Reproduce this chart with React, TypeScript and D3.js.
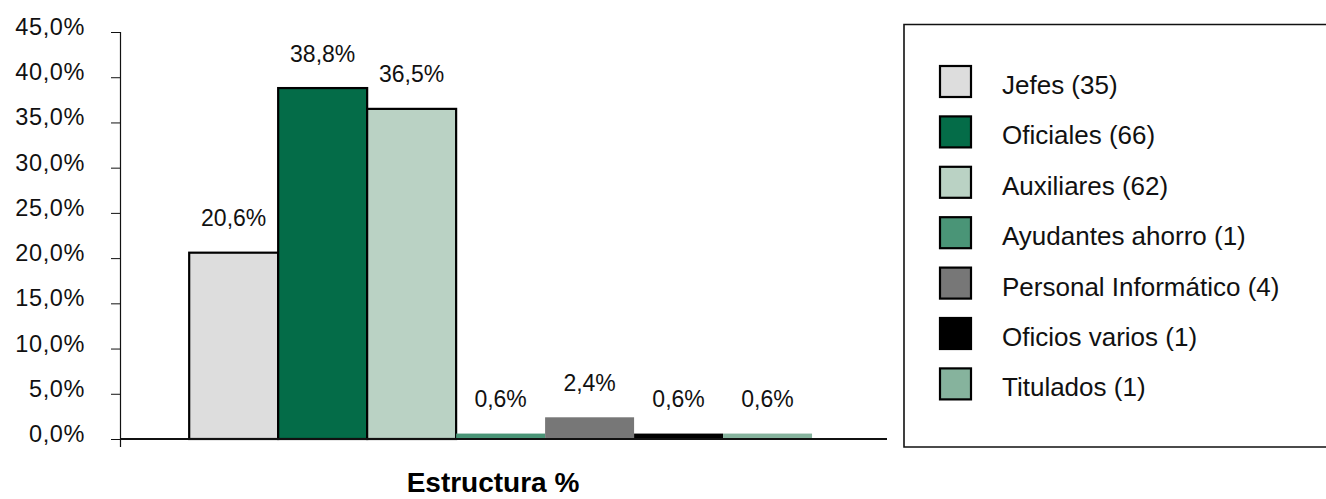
import React from "react";
import * as d3 from "d3";

const categories = [
  "Jefes",
  "Oficiales",
  "Auxiliares",
  "Ayudantes ahorro",
  "Personal Informático",
  "Oficios varios",
  "Titulados",
];
const counts = [35, 66, 62, 1, 4, 1, 1];
const shares = [20.6, 38.8, 36.5, 0.6, 2.4, 0.6, 0.6];
const yTicks = [0, 5, 10, 15, 20, 25, 30, 35, 40, 45];
const palette = ["#dddddd", "#046c48", "#bad2c4", "#4a9577", "#777777", "#000000", "#86b39d"];
const title = "Estructura %";

const W = 1326;
const H = 499;
const FONT = "'Liberation Sans', Arial, Helvetica, sans-serif";

const pct = (v: number) => d3.format(".1f")(v).replace(".", ",") + "%";

export default function App() {
  const plotLeft = 120;
  const plotRight = 887;
  const y = d3.scaleLinear().domain([0, 45]).range([439, 32]);
  const x = d3
    .scaleBand<string>()
    .domain(categories)
    .range([plotLeft, plotRight])
    .paddingInner(0)
    .paddingOuter(0.81)
    .align(0.48);

  const legendX = 904;
  const legendTop = 24.5;
  const legendBottom = 447;
  const rowStep = 50.4;
  const swatchTop0 = 66;
  const swatch = 31;

  return (
    <svg
      width={W}
      height={H}
      viewBox={`0 0 ${W} ${H}`}
      style={{ position: "absolute", left: 0, top: 0, background: "#fff" }}
      fontFamily={FONT}
    >
      <rect x={0} y={0} width={W} height={H} fill="#fff" />

      {/* bars: tall bars carry a black outline, the slivers near zero do not */}
      {categories.map((c, i) => {
        const x0 = x(c) as number;
        const top = y(shares[i]);
        const h = y(0) - top;
        const outlined = h > 40;
        return (
          <rect
            key={c}
            x={x0}
            y={top}
            width={x.bandwidth()}
            height={h}
            fill={palette[i]}
            stroke={outlined ? "#000" : "none"}
            strokeWidth={outlined ? 2.2 : 0}
          />
        );
      })}

      {/* y axis */}
      <line x1={plotLeft + 0.5} x2={plotLeft + 0.5} y1={y(45)} y2={y(0) + 8} stroke="#111" strokeWidth={1.2} />
      {yTicks.map((t) => (
        <g key={t}>
          <line x1={111} x2={plotLeft} y1={y(t) + 0.5} y2={y(t) + 0.5} stroke="#111" strokeWidth={1} />
          <text
            x={85}
            y={y(t) + 3}
            textAnchor="end"
            fontSize={23.5}
            fill="#111"
            letterSpacing={0.6}
          >
            {pct(t)}
          </text>
        </g>
      ))}

      {/* x axis */}
      <line x1={plotLeft} x2={plotRight} y1={y(0)} y2={y(0)} stroke="#111" strokeWidth={2} />

      {/* value labels */}
      {categories.map((c, i) => (
        <text
          key={c}
          x={(x(c) as number) + x.bandwidth() / 2}
          y={y(shares[i]) - 26.5}
          textAnchor="middle"
          fontSize={23}
          fill="#111"
        >
          {pct(shares[i])}
        </text>
      ))}

      {/* title */}
      <text x={493} y={492} textAnchor="middle" fontSize={28} fontWeight="bold" fill="#000">
        {title}
      </text>

      {/* legend */}
      <path
        d={`M${W + 2},${legendTop} H${legendX} V${legendBottom} H${W + 2}`}
        fill="none"
        stroke="#111"
        strokeWidth={1.6}
      />
      {categories.map((c, i) => {
        const top = swatchTop0 + i * rowStep;
        return (
          <g key={c}>
            <rect
              x={940}
              y={top}
              width={swatch}
              height={swatch}
              fill={palette[i]}
              stroke="#000"
              strokeWidth={2.2}
            />
            <text x={1002} y={top + 28} fontSize={26} fill="#111">
              {`${c} (${counts[i]})`}
            </text>
          </g>
        );
      })}
    </svg>
  );
}
